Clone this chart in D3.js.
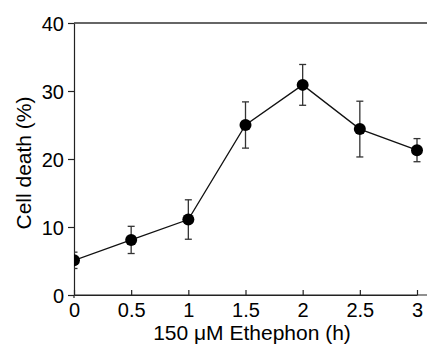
<!DOCTYPE html>
<html><head><meta charset="utf-8">
<script src="https://cdn.jsdelivr.net/npm/d3@7"></script>
<style>body{margin:0;background:#fff}svg{display:block}</style>
</head><body>
<script>
const times = [0, 0.5, 1, 1.5, 2, 2.5, 3];
const cellDeath = [5.1, 8.1, 11.1, 25.0, 30.9, 24.4, 21.3];
const errors = [1.2, 2.0, 2.9, 3.4, 3.0, 4.1, 1.7];
const xTicks = [0, 0.5, 1, 1.5, 2, 2.5, 3];
const yTicks = [0, 10, 20, 30, 40];

const W = 427, H = 344;
const svg = d3.select("body").append("svg").attr("width", W).attr("height", H);
const x = d3.scaleLinear().domain([0, 3]).range([74, 417]);
const y = d3.scaleLinear().domain([0, 40]).range([295, 23]);
const font = "Liberation Sans, Arial, sans-serif";

svg.append("defs").append("clipPath").attr("id", "plot")
  .append("rect").attr("x", x(0)).attr("y", 0).attr("width", W - x(0)).attr("height", H);

// axes
const ya = svg.append("g").attr("transform", `translate(${x(0)},0)`)
  .call(d3.axisLeft(y).tickValues(yTicks).tickSize(6).tickSizeOuter(0));
const xa = svg.append("g").attr("transform", `translate(0,${y(0)})`)
  .call(d3.axisBottom(x).tickValues(xTicks).tickFormat(d3.format("")).tickSize(-5).tickSizeOuter(0));
[ya, xa].forEach(g => {
  g.selectAll("text").attr("font-family", font).attr("font-size", 20).attr("fill", "#000");
  g.selectAll("line,path").attr("stroke", "#222").attr("stroke-width", 1.2);
});
ya.selectAll("text").attr("x", -10).attr("dy", "0.36em");
xa.selectAll("text").attr("y", 8).attr("dy", "0.71em");
// y axis slightly below baseline
svg.append("line").attr("x1", x(0)).attr("x2", x(0)).attr("y1", y(0)).attr("y2", y(0) + 3)
  .attr("stroke", "#222").attr("stroke-width", 1.2);
// extend baseline and top line to the right edge
svg.append("line").attr("x1", x(0)).attr("x2", W).attr("y1", y(0)).attr("y2", y(0))
  .attr("stroke", "#222").attr("stroke-width", 1.2);
svg.append("line").attr("x1", x(0)).attr("x2", W).attr("y1", y(40)).attr("y2", y(40))
  .attr("stroke", "#333").attr("stroke-width", 1.5);

const plot = svg.append("g").attr("clip-path", "url(#plot)");
const data = times.map((t, i) => ({t, v: cellDeath[i], e: errors[i]}));

// error bars
const eb = plot.selectAll(".eb").data(data).enter().append("g").attr("stroke", "#333").attr("stroke-width", 1.3);
eb.append("line").attr("x1", d => x(d.t)).attr("x2", d => x(d.t))
  .attr("y1", d => y(d.v - d.e)).attr("y2", d => y(d.v + d.e));
eb.append("line").attr("x1", d => x(d.t) - 3.5).attr("x2", d => x(d.t) + 3.5)
  .attr("y1", d => y(d.v + d.e)).attr("y2", d => y(d.v + d.e));
eb.append("line").attr("x1", d => x(d.t) - 3.5).attr("x2", d => x(d.t) + 3.5)
  .attr("y1", d => y(d.v - d.e)).attr("y2", d => y(d.v - d.e));

plot.append("path").datum(data)
  .attr("d", d3.line().x(d => x(d.t)).y(d => y(d.v)))
  .attr("fill", "none").attr("stroke", "#111").attr("stroke-width", 1.3);

plot.selectAll(".pt").data(data).enter().append("circle")
  .attr("cx", d => x(d.t)).attr("cy", d => y(d.v)).attr("r", 6).attr("fill", "#000");

svg.append("text").attr("x", 252).attr("y", 340).attr("text-anchor", "middle")
  .attr("font-family", font).attr("font-size", 21).text("150 μM Ethephon (h)");
svg.append("text").attr("transform", "translate(31,163) rotate(-90)").attr("text-anchor", "middle")
  .attr("font-family", font).attr("font-size", 21).text("Cell death (%)");
</script>
</body></html>
